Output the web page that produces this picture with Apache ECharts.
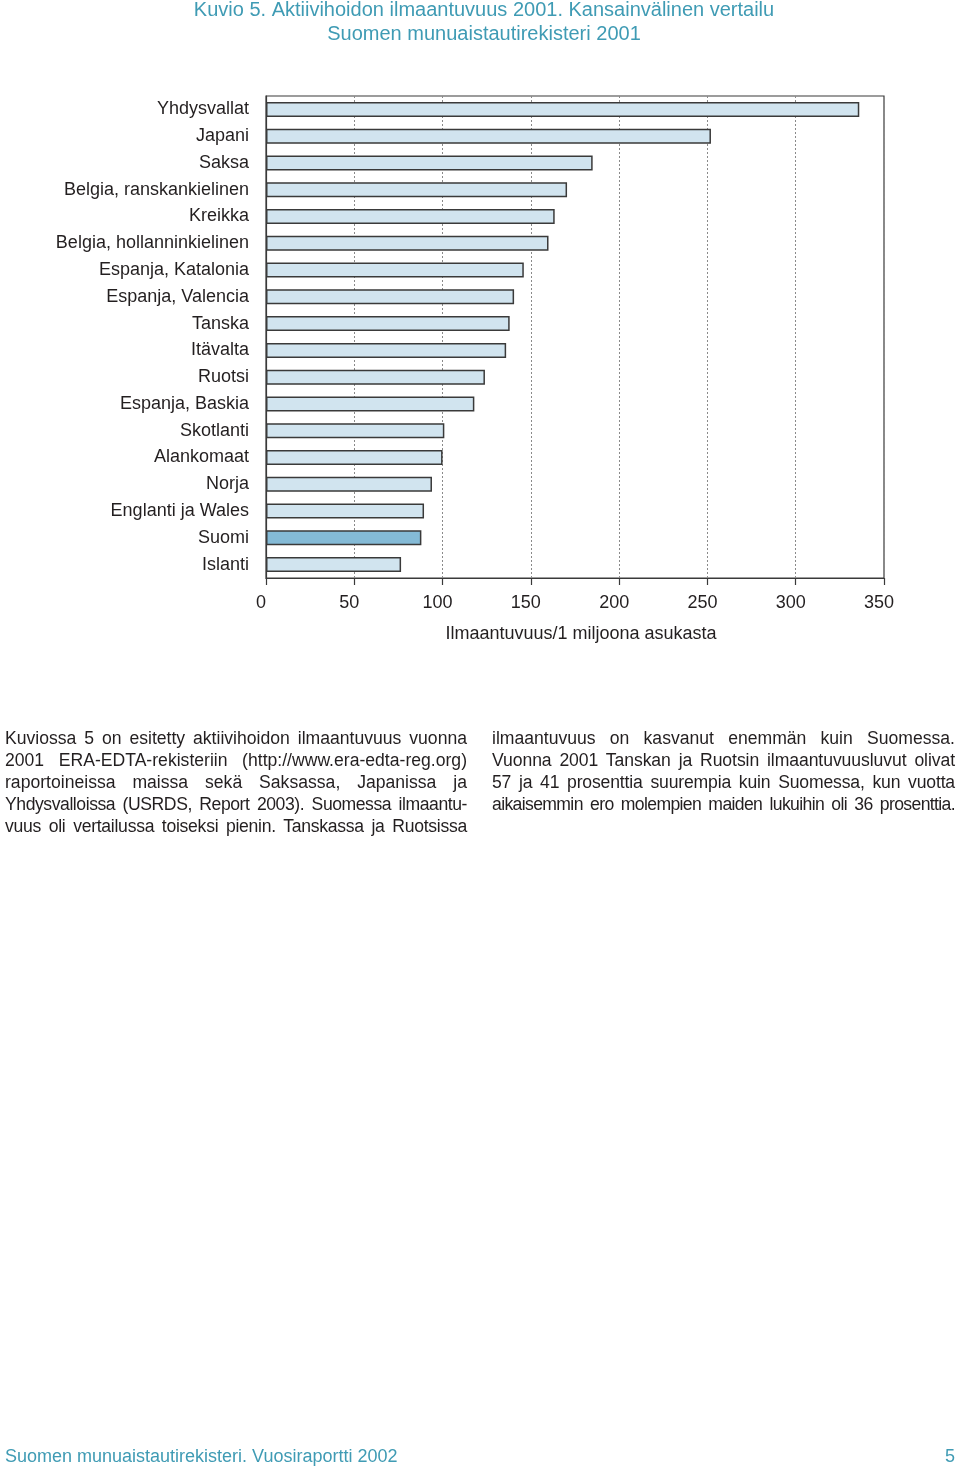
<!DOCTYPE html>
<html><head><meta charset="utf-8">
<script src="https://cdn.jsdelivr.net/npm/echarts@6/dist/echarts.min.js"></script>
<style>
html,body{margin:0;padding:0;background:#fff;}
#chart{position:absolute;left:0;top:0;width:960px;height:1474px;}
.col{position:absolute;top:727px;font-family:"Liberation Sans",Arial,sans-serif;font-size:17.6px;line-height:22px;color:#231f20;}
.col div{text-align:justify;text-align-last:justify;white-space:nowrap;}
</style>
</head><body>
<div id="chart"></div>
<div class="col" id="c1" style="left:5px;width:462px;"></div>
<div class="col" id="c2" style="left:492px;width:463px;"></div>
<script>
const titleLines = ["Kuvio 5. Aktiivihoidon ilmaantuvuus 2001. Kansainvälinen vertailu", "Suomen munuaistautirekisteri 2001"];
const categories = ["Yhdysvallat","Japani","Saksa","Belgia, ranskankielinen","Kreikka","Belgia, hollanninkielinen","Espanja, Katalonia","Espanja, Valencia","Tanska","Itävalta","Ruotsi","Espanja, Baskia","Skotlanti","Alankomaat","Norja","Englanti ja Wales","Suomi","Islanti"];
const values = [336,252,185,170.5,163.5,160,146,140.5,138,136,124,118,101,100,94,89.5,88,76.5];
const highlight = "Suomi";
const axisName = "Ilmaantuvuus/1 miljoona asukasta";
const xTicks = [0,50,100,150,200,250,300,350];
const footerLeft = "Suomen munuaistautirekisteri. Vuosiraportti 2002";
const footerRight = "5";
const para1 = ["Kuviossa 5 on esitetty aktiivihoidon ilmaantuvuus vuonna","2001 ERA-EDTA-rekisteriin (http://www.era-edta-reg.org)","raportoineissa maissa sekä Saksassa, Japanissa ja","Yhdysvalloissa (USRDS, Report 2003). Suomessa ilmaantu-","vuus oli vertailussa toiseksi pienin. Tanskassa ja Ruotsissa"];
const para2 = ["ilmaantuvuus on kasvanut enemmän kuin Suomessa.","Vuonna 2001 Tanskan ja Ruotsin ilmaantuvuusluvut olivat","57 ja 41 prosenttia suurempia kuin Suomessa, kun vuotta","aikaisemmin ero molempien maiden lukuihin oli 36 prosenttia."];

const mctx = document.createElement('canvas').getContext('2d');
function fill(id, lines, width){
  const el = document.getElementById(id);
  const fs = getComputedStyle(el).fontSize;
  mctx.font = fs + ' "Liberation Sans", Arial, sans-serif';
  lines.forEach(t => {
    const d = document.createElement('div');
    d.textContent = t;
    const w = mctx.measureText(t).width;
    const minGap = 3;
    const spaces = (t.match(/ /g) || []).length;
    if (w + spaces * minGap > width) {
      d.style.letterSpacing = ((width - w - spaces * minGap) / t.length).toFixed(3) + 'px';
    }
    el.appendChild(d);
  });
}
fill('c1', para1, 462); fill('c2', para2, 463);

const teal = '#3f9bb4';
const chart = echarts.init(document.getElementById('chart'), null, {renderer:'canvas'});
const barData = values.map((v,i) => categories[i] === highlight ? {value:v, itemStyle:{color:'#84bad6'}} : v);
chart.setOption({
  animation:false,
  backgroundColor:'#fff',
  textStyle:{fontFamily:'"Liberation Sans", Arial, sans-serif'},
  title:{
    text: titleLines.join('\n'), left:479, textAlign:'center', top:-7,
    textStyle:{color:teal, fontSize:20, fontWeight:'normal', lineHeight:24, fontFamily:'"Liberation Sans",sans-serif'}
  },
  grid:{left:266, right:76, top:96, bottom:896, show:true, borderColor:'#3a3a3a', borderWidth:1.2, containLabel:false},
  xAxis:{
    type:'value', min:xTicks[0], max:xTicks[xTicks.length-1], interval:xTicks[1]-xTicks[0],
    axisLine:{show:true, lineStyle:{color:'#3a3a3a', width:1.2}},
    axisTick:{show:true, length:7, lineStyle:{color:'#3a3a3a', width:1.2}},
    axisLabel:{color:'#231f20', fontSize:18, margin:16, padding:[0,10,0,0]},
    splitLine:{show:true, lineStyle:{color:'#8a8a8a', type:[2,2], width:1}},
    name: axisName, nameLocation:'middle', nameGap:47,
    nameTextStyle:{color:'#231f20', fontSize:18, padding:[0,0,0,12]}
  },
  yAxis:{
    type:'category', data:categories, inverse:true,
    axisLine:{show:true, lineStyle:{color:'#3a3a3a', width:1.2}},
    axisTick:{show:false},
    axisLabel:{color:'#231f20', fontSize:18, margin:17},
    splitLine:{show:false}
  },
  series:[{
    type:'bar', data:barData, barWidth:15,
    itemStyle:{color:'#d1e4ef', borderColor:'#3a3a3a', borderWidth:1.5}
  }],
  graphic:[
    {type:'text', left:5, top:1448, style:{text:footerLeft, fill:teal, fontSize:18, fontFamily:'"Liberation Sans",sans-serif'}},
    {type:'text', right:5, top:1448, style:{text:footerRight, fill:teal, fontSize:18, fontFamily:'"Liberation Sans",sans-serif'}}
  ]
});
</script>
</body></html>
